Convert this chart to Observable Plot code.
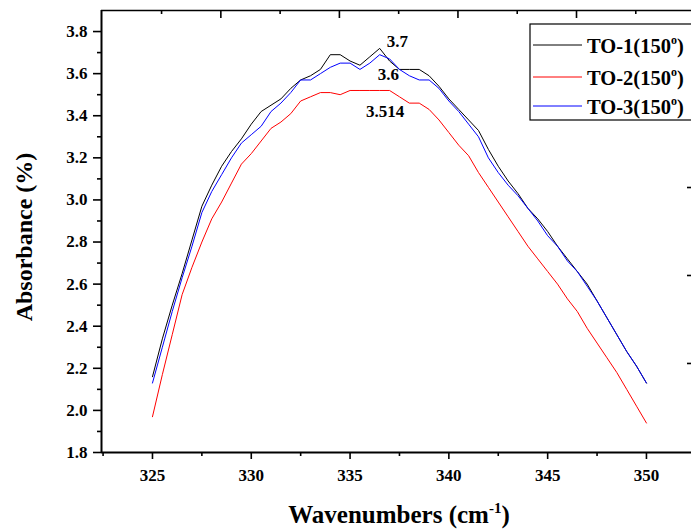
<!DOCTYPE html>
<html><head><meta charset="utf-8">
<script src="https://cdn.jsdelivr.net/npm/d3@7"></script>
<script src="https://cdn.jsdelivr.net/npm/@observablehq/plot@0.6"></script>
<style>
body{margin:0;background:#fff}
svg{display:block}
</style>
</head><body><div id="chart"></div>
<script>
const wavenumbers = [325,325.5,326,326.5,327,327.5,328,328.5,329,329.5,330,330.5,331,331.5,332,332.5,333,333.5,334,334.5,335,335.5,336,336.5,337,337.5,338,338.5,339,339.5,340,340.5,341,341.5,342,342.5,343,343.5,344,344.5,345,345.5,346,346.5,347,347.5,348,348.5,349,349.5,350];
const to1 = [2.16,2.34,2.50,2.65,2.81,2.97,3.07,3.16,3.23,3.29,3.36,3.42,3.45,3.48,3.53,3.57,3.59,3.62,3.69,3.69,3.66,3.64,3.68,3.72,3.66,3.62,3.62,3.62,3.59,3.54,3.48,3.43,3.38,3.33,3.24,3.16,3.09,3.03,2.96,2.91,2.85,2.78,2.72,2.66,2.60,2.52,2.44,2.36,2.28,2.21,2.13];
const to2 = [1.97,2.17,2.36,2.55,2.68,2.80,2.91,2.99,3.08,3.17,3.22,3.28,3.34,3.37,3.41,3.47,3.49,3.51,3.51,3.50,3.52,3.52,3.52,3.52,3.52,3.49,3.46,3.46,3.43,3.38,3.32,3.26,3.21,3.13,3.06,2.99,2.92,2.85,2.78,2.72,2.66,2.60,2.53,2.47,2.39,2.32,2.25,2.18,2.10,2.02,1.94];
const to3 = [2.13,2.30,2.47,2.63,2.78,2.94,3.04,3.12,3.20,3.27,3.31,3.35,3.42,3.46,3.51,3.57,3.57,3.60,3.63,3.65,3.65,3.62,3.65,3.69,3.67,3.62,3.59,3.57,3.57,3.53,3.47,3.42,3.36,3.30,3.20,3.13,3.07,3.02,2.96,2.90,2.83,2.78,2.71,2.66,2.59,2.52,2.44,2.36,2.28,2.21,2.13];
const seriesNames = ["TO-1", "TO-2", "TO-3"];
const seriesColors = ["#000000", "#ff0000", "#0000ff"];
const xDomain = [322.42, 352.28];
const yDomain = [1.8, 3.9];
const xTicksMajor = [325, 330, 335, 340, 345, 350];
const xTicksMinor = [322.5, 327.5, 332.5, 337.5, 342.5, 347.5];
const yTicksMajor = [1.8, 2.0, 2.2, 2.4, 2.6, 2.8, 3.0, 3.2, 3.4, 3.6, 3.8];
const yTicksMinor = [1.9, 2.1, 2.3, 2.5, 2.7, 2.9, 3.1, 3.3, 3.5, 3.7];
const topTicksMajor = [328.46, 334.46, 340.46, 346.46];
const topTicksMinor = [325.46, 331.46, 337.46, 343.46, 349.46];
const rightTicks = [3.059, 2.641, 2.223];
const annotLabels = ["3.7", "3.6", "3.514"];
const annotX = [337.4, 336.94, 336.77];
const annotY = [3.752, 3.595, 3.419];

const series = [to1, to2, to3];
const data = [];
series.forEach((vals, i) => vals.forEach((v, j) => data.push({x: wavenumbers[j], y: v, s: seriesNames[i]})));
const annots = annotLabels.map((t, i) => ({t, x: annotX[i], y: annotY[i]}));

const FONT = "'Liberation Serif', 'Times New Roman', serif";
const blank = () => "";

const plot = Plot.plot({
  width: 691, height: 531,
  marginLeft: 101, marginRight: 0, marginTop: 10, marginBottom: 79,
  x: {domain: xDomain},
  y: {domain: yDomain},
  color: {domain: seriesNames, range: seriesColors},
  marks: [
    Plot.axisX({ticks: xTicksMajor, tickSize: 7, tickPadding: 9, strokeWidth: 1.6, tickFormat: d => String(d), label: null}),
    Plot.axisX({ticks: xTicksMinor, tickSize: 4, strokeWidth: 1.6, tickFormat: blank, label: null}),
    Plot.axisY({ticks: yTicksMajor, tickSize: 8, tickPadding: 6, strokeWidth: 1.6, tickFormat: d3.format(".1f"), label: null}),
    Plot.axisY({ticks: yTicksMinor, tickSize: 4, strokeWidth: 1.6, tickFormat: blank, label: null}),
    Plot.axisX({anchor: "top", ticks: topTicksMajor, tickSize: -7, strokeWidth: 1.6, tickFormat: blank, label: null}),
    Plot.axisX({anchor: "top", ticks: topTicksMinor, tickSize: -3, strokeWidth: 1.6, tickFormat: blank, label: null}),
    Plot.axisY({anchor: "right", ticks: rightTicks, tickSize: -5, strokeWidth: 1.6, tickFormat: blank, label: null}),
    Plot.ruleX([xDomain[0]], {strokeWidth: 2}),
    Plot.ruleY([yDomain[0]], {strokeWidth: 2}),
    Plot.ruleY([yDomain[1]], {strokeWidth: 1.5}),
    Plot.line(data, {x: "x", y: "y", z: "s", stroke: "s", strokeWidth: 1}),
    Plot.text(annots, {x: "x", y: "y", text: "t", fill: "black"})
  ]
});
document.getElementById("chart").appendChild(plot);

const svg = d3.select(plot);
svg.style("font-family", FONT).style("font-weight", "bold").style("font-size", "17px").style("background", "white");
svg.selectAll("text").style("font-family", FONT).style("font-weight", "bold").style("font-size", "17px").attr("fill", "black");

// Y title
svg.append("text")
  .attr("transform", "translate(32,237) rotate(-90)")
  .attr("text-anchor", "middle")
  .style("font-family", FONT).style("font-weight", "bold").style("font-size", "24px")
  .attr("fill", "black")
  .text("Absorbance (%)");
// X title
const xt = svg.append("text")
  .attr("x", 399).attr("y", 523)
  .attr("text-anchor", "middle")
  .style("font-family", FONT).style("font-weight", "bold").style("font-size", "25px")
  .attr("fill", "black");
xt.append("tspan").text("Wavenumbers (cm");
xt.append("tspan").attr("dy", -10).style("font-size", "15px").text("-1");
xt.append("tspan").attr("dy", 10).text(")");

// Legend
const lg = svg.append("g");
lg.append("rect").attr("x", 530).attr("y", 24).attr("width", 200).attr("height", 96)
  .attr("fill", "white").attr("stroke", "black").attr("stroke-width", 1.2);
const rows = [45, 77, 106];
seriesNames.forEach((name, i) => {
  lg.append("line").attr("x1", 533).attr("x2", 582).attr("y1", rows[i]).attr("y2", rows[i])
    .attr("stroke", seriesColors[i]).attr("stroke-width", 1);
  const t = lg.append("text").attr("x", 587).attr("y", rows[i] + 8)
    .attr("text-anchor", "start")
    .style("font-family", FONT).style("font-weight", "bold").style("font-size", "20.5px").attr("fill", "black");
  t.append("tspan").text(name + "(150");
  t.append("tspan").attr("dy", -9).style("font-size", "12px").text("o");
  t.append("tspan").attr("dy", 9).text(")");
});
</script>
</body></html>
